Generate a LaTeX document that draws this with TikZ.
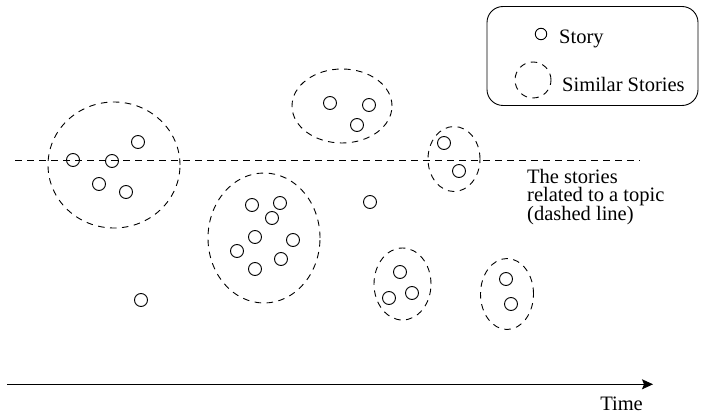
\documentclass[tikz,border=0pt]{standalone}
\usepackage{fontspec}
\setmainfont{Liberation Serif}
\usetikzlibrary{shapes.geometric,arrows.meta}
\newcommand\myLabelFont{\fontsize{20.5}{18.3}\selectfont\lineskiplimit=-20pt\relax\lineskip=0pt\relax}
\tikzset{
  story/.style={circle,draw,line width=0.9pt,minimum size=13pt,inner sep=0pt},
  legstory/.style={circle,draw,line width=0.9pt,minimum size=11.5pt,inner sep=0pt},
  group/.style={ellipse,draw,line width=0.9pt,dash pattern=on 6.5pt off 5.5pt,inner sep=0pt},
  topicline/.style={line width=0.9pt,dash pattern=on 6.5pt off 5.5pt},
  lbl/.style={inner sep=0pt,font=\myLabelFont},
}
\begin{document}
\begin{tikzpicture}[x=1pt,y=-1pt]
\useasboundingbox (0,0) rectangle (701,414);
% legend
\node[draw,line width=0.9pt,rounded corners=16pt,minimum width=211pt,minimum height=99pt,inner sep=0pt] (legend) at (592.5,56) {};
\node[legstory] (ls) at (541,34) {};
\node[lbl,anchor=base west] (lstxt) at (559,43.5) {Story};
\node[group,minimum width=36pt,minimum height=36pt] (lg) at (533,80) {};
\node[lbl,anchor=base west] (lgtxt) at (562,91.7) {Similar Stories};
% topic line
\coordinate (tl0) at (15,160);
\coordinate (tl1) at (640,160);
\draw[topicline] (tl0) -- (tl1);
\node[lbl,anchor=base west,align=left] (tltxt) at (527,220) {The stories\\related to a topic\\(dashed line)};
% cluster 1
\node[group,minimum width=132pt,minimum height=126pt] (g1) at (114,165) {};
\node[story] (a1) at (73,160) {};
\node[story] (a2) at (112,161) {};
\node[story] (a3) at (138,142) {};
\node[story] (a4) at (99,184) {};
\node[story] (a5) at (126,192) {};
\node[story] (lone1) at (141,300) {};
% cluster 2 (top)
\node[group,minimum width=100pt,minimum height=74pt] (g2) at (342,106) {};
\node[story] (b1) at (330,103) {};
\node[story] (b2) at (369,105) {};
\node[story] (b3) at (357,125) {};
% cluster 3 (big middle)
\node[group,minimum width=112pt,minimum height=130pt] (g3) at (264,238) {};
\node[story] (c1) at (252,205) {};
\node[story] (c2) at (280,203) {};
\node[story] (c3) at (272,218) {};
\node[story] (c4) at (255,237) {};
\node[story] (c5) at (293,240) {};
\node[story] (c6) at (237,251) {};
\node[story] (c7) at (281,259) {};
\node[story] (c8) at (255,269) {};
\node[story] (lone2) at (370,202) {};
% cluster 4 (on the line)
\node[group,minimum width=52pt,minimum height=65pt] (g4) at (454,159) {};
\node[story] (d1) at (444,143) {};
\node[story] (d2) at (459,171) {};
% cluster 5
\node[group,minimum width=57pt,minimum height=72pt] (g5) at (402.5,284) {};
\node[story] (e1) at (400,272) {};
\node[story] (e2) at (389,298) {};
\node[story] (e3) at (412,293) {};
% cluster 6
\node[group,minimum width=53pt,minimum height=71pt] (g6) at (507,294) {};
\node[story] (f1) at (506,279) {};
\node[story] (f2) at (511,304) {};
% time axis
\coordinate (t0) at (7,384.3);
\coordinate (t1) at (653,384.3);
\draw[line width=0.9pt,-{Stealth[length=11pt,width=10pt,inset=2pt]}] (t0) -- (t1);
\node[lbl,anchor=base east] (time) at (643,410) {Time};
\end{tikzpicture}
\end{document}
